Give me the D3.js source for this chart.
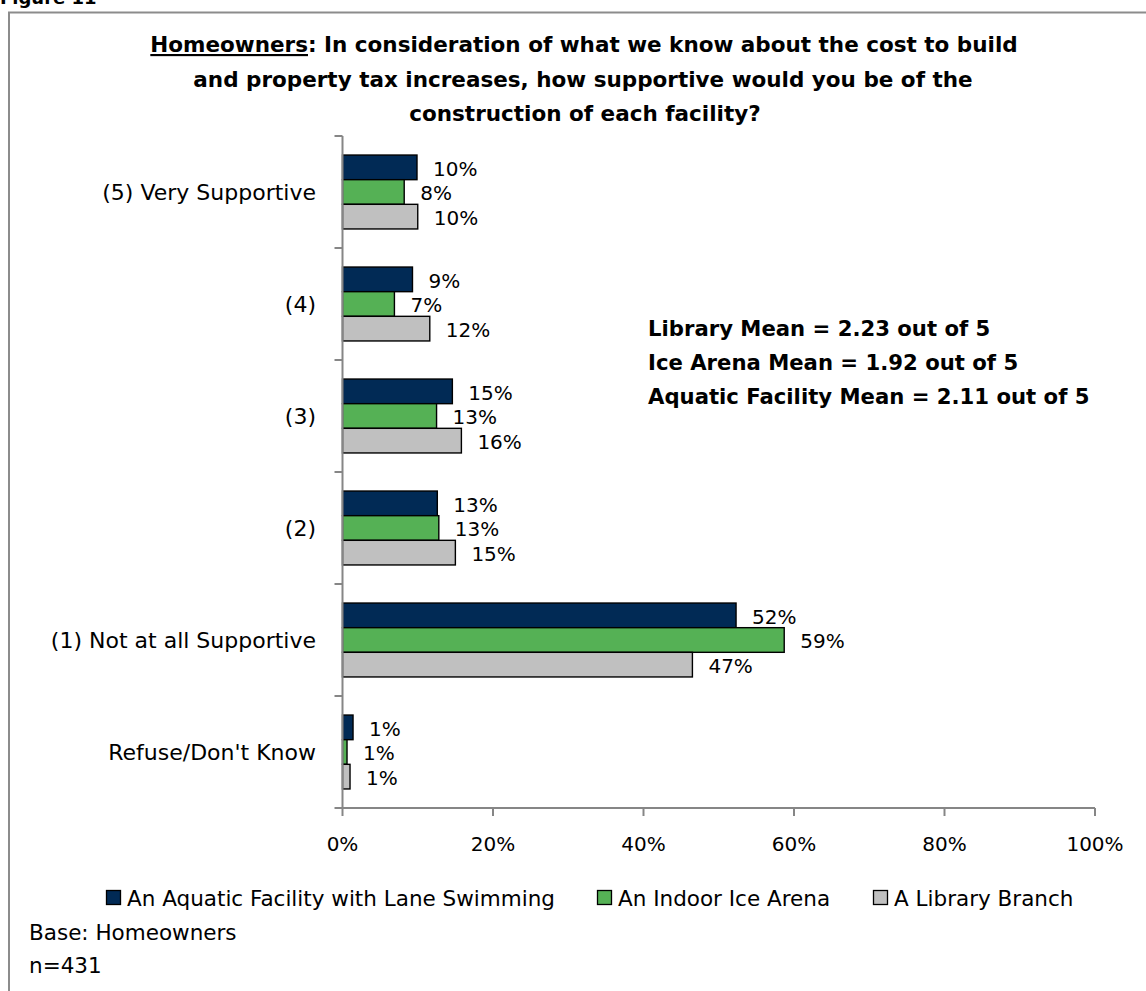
<!DOCTYPE html>
<html>
<head>
<meta charset="utf-8">
<script src="https://cdn.jsdelivr.net/npm/d3@7"></script>
<style>
  html, body { margin: 0; padding: 0; background: #fff; }
  svg { display: block; }
  text { font-family: "DejaVu Sans", "Liberation Sans", sans-serif; fill: #000; }
</style>
</head>
<body>
<svg id="chart" width="1146" height="991"></svg>
<script>
// Survey responses (percent of homeowners)
const categories = ["(5) Very Supportive", "(4)", "(3)", "(2)", "(1) Not at all Supportive", "Refuse/Don't Know"];
const aquatic  = [9.9, 9.3, 14.6, 12.6, 52.3, 1.4];
const iceArena = [8.2, 6.9, 12.5, 12.8, 58.7, 0.6];
const library  = [10.0, 11.6, 15.8, 15.0, 46.5, 1.0];
const seriesNames = ["An Aquatic Facility with Lane Swimming", "An Indoor Ice Arena", "A Library Branch"];
const seriesColors = ["#012a55", "#55b155", "#c0c0c0"];
const xTicks = [0, 20, 40, 60, 80, 100];
const titleLines = ["In consideration of what we know about the cost to build",
                    "and property tax increases, how supportive would you be of the",
                    "construction of each facility?"];
const meanLines = ["Library Mean = 2.23 out of 5", "Ice Arena Mean = 1.92 out of 5", "Aquatic Facility Mean = 2.11 out of 5"];
const footnotes = ["Base: Homeowners", "n=431"];

const svg = d3.select("#chart");
const series = [aquatic, iceArena, library];
const labelSize = 22;
const numberSize = 20;

// Frame around the figure
svg.append("rect").attr("x", 9).attr("y", 12.5).attr("width", 1200).attr("height", 1100)
  .attr("fill", "none").attr("stroke", "#8c8c8c").attr("stroke-width", 2);

svg.append("text").attr("x", 0).attr("y", 4).attr("font-size", 18).attr("font-weight", "bold")
  .text("Figure 11");

// Title
const title = svg.append("g").attr("font-weight", "bold").attr("font-size", 21.5).attr("text-anchor", "middle");
const t0 = title.append("text").attr("x", 584).attr("y", 52);
t0.append("tspan").attr("text-decoration", "underline").text("Homeowners");
t0.append("tspan").text(": " + titleLines[0]);
title.append("text").attr("x", 583).attr("y", 87).text(titleLines[1]);
title.append("text").attr("x", 585).attr("y", 121).text(titleLines[2]);

// Scales
const x = d3.scaleLinear().domain([0, 100]).range([342.5, 1095]);
const y = d3.scaleBand().domain(categories).range([136, 808]).paddingInner(0.34).paddingOuter(0.17);
const ySub = d3.scaleBand().domain([0, 1, 2]).range([0, y.bandwidth()]);

// Bars with value labels
const groups = svg.append("g").selectAll("g").data(categories).join("g")
  .attr("transform", d => `translate(0,${y(d)})`);

groups.each(function(cat, ci) {
  const g = d3.select(this);
  series.forEach((vals, si) => {
    const v = vals[ci];
    g.append("rect")
      .attr("x", x(0)).attr("y", ySub(si))
      .attr("width", x(v) - x(0)).attr("height", ySub.bandwidth())
      .attr("fill", seriesColors[si]).attr("stroke", "#000").attr("stroke-width", 1.4);
    g.append("text")
      .attr("x", x(v) + 16).attr("y", ySub(si) + ySub.bandwidth() / 2 + 8.5)
      .attr("font-size", numberSize)
      .text(Math.round(v) + "%");
  });
});

// Y axis
const yAxis = svg.append("g").attr("transform", `translate(${x(0)},0)`);
yAxis.append("line").attr("x1", 0).attr("x2", 0).attr("y1", 136).attr("y2", 808)
  .attr("stroke", "#868686").attr("stroke-width", 2);
const yTickPos = categories.map(c => y(c) - y.step() * y.paddingInner() / 2).concat([808]);
yAxis.selectAll("line.tick").data(yTickPos).join("line").attr("class", "tick")
  .attr("x1", -8).attr("x2", 0).attr("y1", d => d).attr("y2", d => d)
  .attr("stroke", "#868686").attr("stroke-width", 2);
svg.append("g").selectAll("text").data(categories).join("text")
  .attr("x", 316).attr("y", d => y(d) + y.bandwidth() / 2 + 8)
  .attr("text-anchor", "end").attr("font-size", labelSize)
  .text(d => d);

// X axis
const xAxis = svg.append("g").attr("transform", "translate(0,808)");
xAxis.append("line").attr("x1", x(0)).attr("x2", x(100)).attr("y1", 0).attr("y2", 0)
  .attr("stroke", "#868686").attr("stroke-width", 2);
xAxis.selectAll("line.tick").data(xTicks).join("line").attr("class", "tick")
  .attr("x1", d => x(d)).attr("x2", d => x(d)).attr("y1", 0).attr("y2", 8)
  .attr("stroke", "#868686").attr("stroke-width", 2);
xAxis.selectAll("text").data(xTicks).join("text")
  .attr("x", d => x(d)).attr("y", 43).attr("text-anchor", "middle").attr("font-size", numberSize)
  .text(d => d + "%");

// Mean scores
svg.append("g").attr("font-weight", "bold").attr("font-size", 21.2)
  .selectAll("text").data(meanLines).join("text")
  .attr("x", 648).attr("y", (d, i) => 336 + i * 34).text(d => d);

// Legend
const legendX = [106, 597, 873];
const legend = svg.append("g").selectAll("g").data(seriesNames).join("g")
  .attr("transform", (d, i) => `translate(${legendX[i]},890)`);
legend.append("rect").attr("x", 0.5).attr("y", 0.5).attr("width", 14).attr("height", 14)
  .attr("fill", (d, i) => seriesColors[i]).attr("stroke", "#000").attr("stroke-width", 1.3);
legend.append("text").attr("x", 21).attr("y", 16).attr("font-size", 21.5).text(d => d);

// Footnotes
svg.append("g").selectAll("text").data(footnotes).join("text")
  .attr("x", 29).attr("y", (d, i) => 940 + i * 33).attr("font-size", 21.5).text(d => d);
</script>
</body>
</html>
